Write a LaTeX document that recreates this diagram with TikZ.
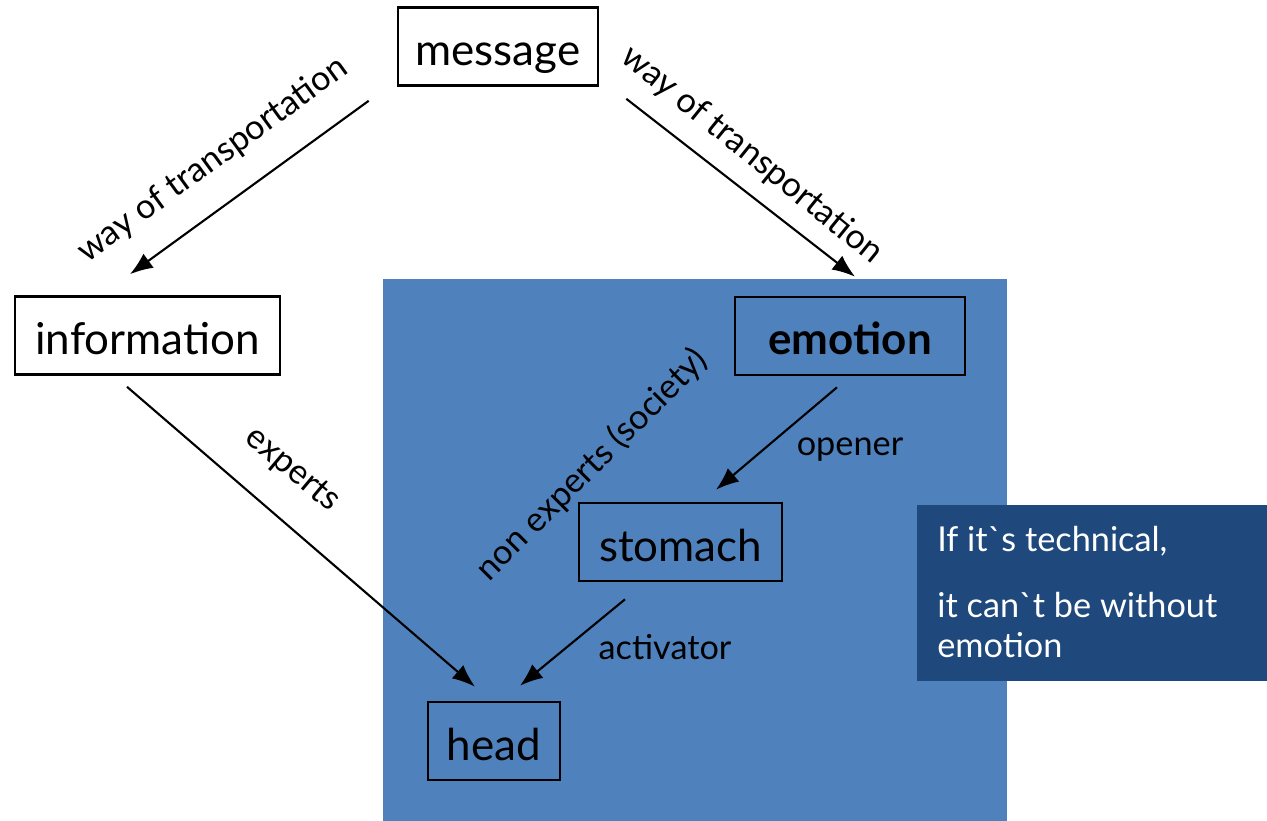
\documentclass[tikz,border=0pt]{standalone}
\usepackage{fontspec}
\setmainfont{Lato}
\usetikzlibrary{arrows.meta}
\definecolor{fond}{HTML}{4F81BD}
\definecolor{encadre}{HTML}{1F497D}
\begin{document}
\begin{tikzpicture}[x=0.02cm,y=-0.02cm]
	% Styles
	\tikzstyle{fleche}=[->,>={Latex[length=13pt,width=10pt]},line width=1.2pt]
	\tikzstyle{boite}=[draw,line width=1.5pt,minimum height=1.56cm,inner sep=0pt,text height=0.9cm,text depth=0.14cm,font=\fontsize{25}{30}\selectfont]
	\tikzstyle{etiquette}=[inner sep=0pt,font=\fontsize{19.5}{23}\selectfont]
	\tikzstyle{remarque}=[fill=encadre,minimum width=7cm,minimum height=3.52cm,inner sep=0pt]
	\tikzstyle{texteblanc}=[text=white,inner sep=0pt,align=left,font=\fontsize{19.5}{22.5}\selectfont]
	% Cadre
	\useasboundingbox (0,0) rectangle (1267,821);
	\fill[fond] (383,279) rectangle (1007,821);
	% Noeuds
	\node[boite,minimum width=4cm] (message) at (498,46.5) {message};
	\node[boite,minimum width=5.3cm] (information) at (147.5,335.5) {information};
	\node[boite,minimum width=4.6cm,font=\fontsize{25}{30}\selectfont\bfseries] (emotion) at (850,336) {emotion};
	\node[boite,minimum width=4.06cm] (stomach) at (680.5,542) {stomach};
	\node[boite,minimum width=2.64cm] (head) at (494,741) {head};
	% Encadre
	\node[remarque,anchor=north west] (cadre) at (917,505) {};
	\node[texteblanc,anchor=base west] (ligne1) at (937,551) {If it\textasciigrave s technical,};
	\node[texteblanc,anchor=base west] (ligne2) at (937,657) {it can\textasciigrave t be without\\emotion};
	% Arcs
	\draw[fleche] ([shift={(-28,14)}]message.south west) -- ([shift={(-17.5,-21)}]information.north);
	\draw[fleche] ([shift={(27,12)}]message.south east) -- ([shift={(5,-19)}]emotion.north);
	\draw[fleche] ([shift={(-20.5,11)}]information.south) -- ([shift={(-19,-14)}]head.north);
	\draw[fleche] ([shift={(-13,11)}]emotion.south) -- ([shift={(35.5,-12)}]stomach.north);
	\draw[fleche] ([shift={(-55.5,17)}]stomach.south) -- ([shift={(26,-15)}]head.north);
	% Etiquettes
	\node[etiquette,rotate=36] (transportA) at (213,160) {way of transportation};
	\node[etiquette,rotate=-39] (transportB) at (752,155) {way of transportation};
	\node[etiquette,rotate=-40] (experts) at (292,470) {experts};
	\node[etiquette,rotate=45] (nonexperts) at (592,465) {non experts (society)};
	\node[etiquette] (opener) at (850,450) {opener};
	\node[etiquette] (activator) at (665,647) {activator};
\end{tikzpicture}
\end{document}
